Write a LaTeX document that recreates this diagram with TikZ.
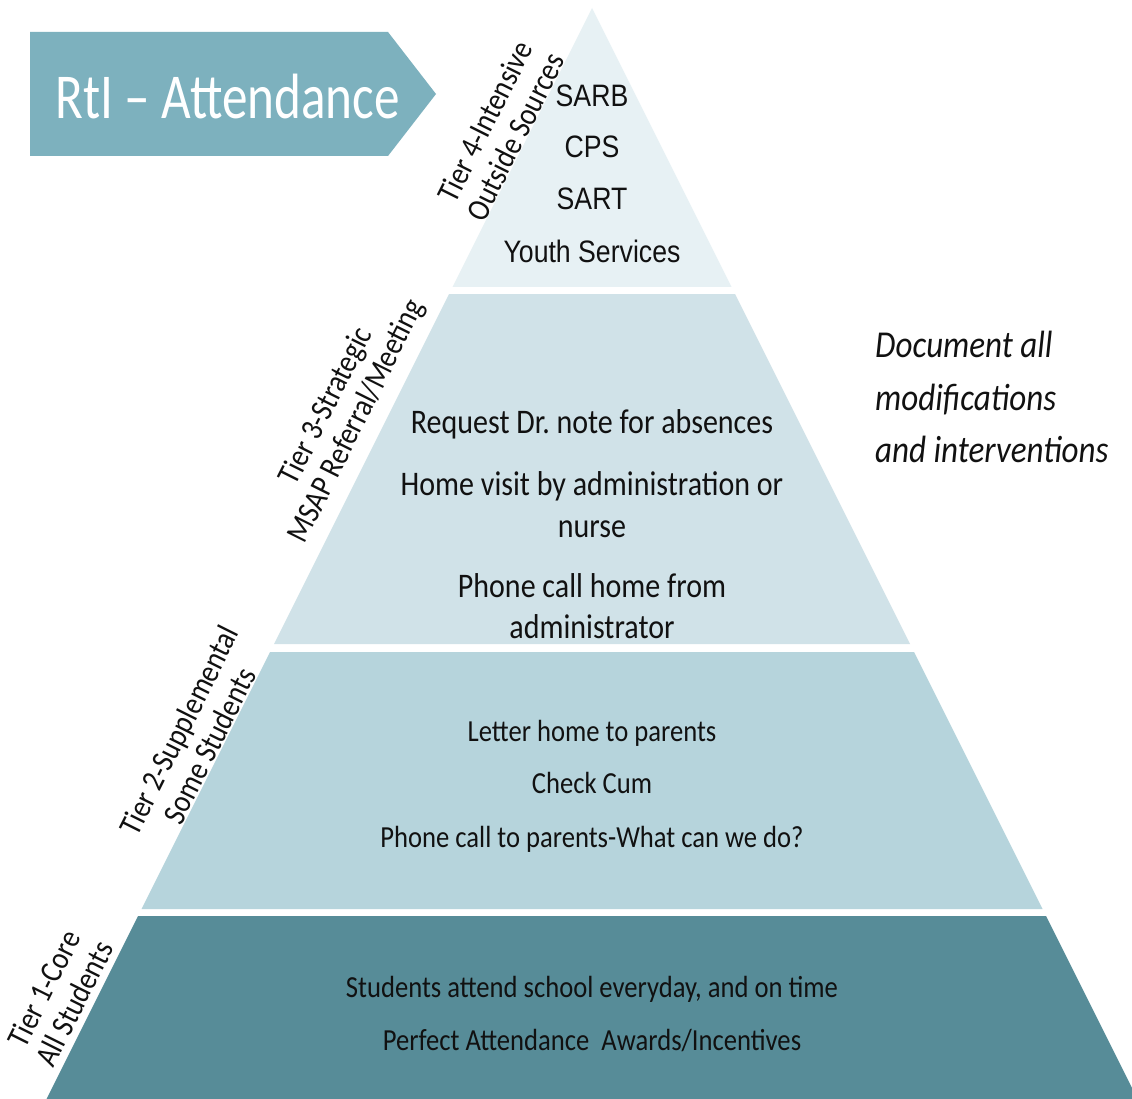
\documentclass[tikz,border=0pt]{standalone}
\usepackage{fontspec}
\setmainfont{Carlito}[FakeStretch=0.87,Ligatures=TeX]
\newfontfamily\titlefont[FakeStretch=0.8]{Carlito}
\newfontfamily\narrowfont[FakeStretch=0.86]{Liberation Sans}
\definecolor{bannerc}{HTML}{7DB1BE}
\definecolor{tierfour}{HTML}{E7F1F4}
\definecolor{tierthree}{HTML}{D0E2E8}
\definecolor{tiertwo}{HTML}{B6D4DC}
\definecolor{tierone}{HTML}{578C98}
\definecolor{txt}{HTML}{111111}
\begin{document}
\frenchspacing
\begin{tikzpicture}[x=1pt,y=-1pt,
  item/.style={anchor=base,inner sep=0pt,text=txt},
  tfour/.style={item,font=\narrowfont\fontsize{31}{36}\selectfont},
  tthree/.style={item,font=\fontsize{34.5}{40}\selectfont},
  ttwo/.style={item,font=\fontsize{30.6}{36}\selectfont},
  side/.style={anchor=base west,inner sep=0pt,text=txt,font=\itshape\fontsize{38}{44}\selectfont},
  tierlabel/.style={inner sep=0pt,text=txt,align=center,rotate=63.43,font=\fontsize{32}{34}\selectfont}]
\useasboundingbox (0,0) rectangle (1132,1099);
\clip (0,0) rectangle (1132,1099);
\fill[white] (0,0) rectangle (1132,1099);
% banner
\fill[bannerc] (30,32) -- (388,32) -- (436,94) -- (388,156) -- (30,156) -- cycle;
\node[anchor=base west,inner sep=0pt,text=white,font=\titlefont\fontsize{64}{70}\selectfont] (title) at (55,119) {RtI – Attendance};
% pyramid tiers
\fill[tierfour] (592,8) -- (731.5,287) -- (452.5,287) -- cycle;
\fill[tierthree] (449,294) -- (735,294) -- (910,644) -- (274,644) -- cycle;
\fill[tiertwo] (270,652) -- (914,652) -- (1042.5,909) -- (141.5,909) -- cycle;
\fill[tierone] (138,916) -- (1046,916) -- (1137.5,1099) -- (46.5,1099) -- cycle;
% tier 4
\node[tfour] (sarb) at (592,107) {SARB};
\node[tfour] (cps) at (592,158) {CPS};
\node[tfour] (sart) at (592,210) {SART};
\node[tfour] (youth) at (592,262) {Youth Services};
% tier 3
\node[tthree] (req) at (592,433) {Request Dr. note for absences};
\node[tthree] (home) at (592,495) {Home visit by administration or};
\node[tthree] (nurse) at (592,537) {nurse};
\node[tthree] (phone) at (592,597) {Phone call home from};
\node[tthree] (admin) at (592,638) {administrator};
% tier 2
\node[ttwo] (letter) at (592,741) {Letter home to parents};
\node[ttwo] (cum) at (592,793) {Check Cum};
\node[ttwo] (parents) at (592,847) {Phone call to parents-What can we do?};
% tier 1
\node[ttwo] (attend) at (592,997) {Students attend school everyday, and on time};
\node[ttwo] (perfect) at (592,1050) {Perfect Attendance\ \ Awards/Incentives};
% side note
\node[side] (doc1) at (875,357) {Document all};
\node[side] (doc2) at (875,410) {modifications};
\node[side] (doc3) at (875,462) {and interventions};
% tier labels
\node[tierlabel] (lfour) at (500,129) {Tier 4-Intensive\\Outside Sources};
\node[tierlabel] (lthree) at (342,414) {Tier 3-Strategic\\MSAP Referral/Meeting};
\node[tierlabel] (ltwo) at (194,738) {Tier 2-Supplemental\\Some Students};
\node[tierlabel] (lone) at (59,996) {Tier 1-Core\\All Students};
\end{tikzpicture}
\end{document}
